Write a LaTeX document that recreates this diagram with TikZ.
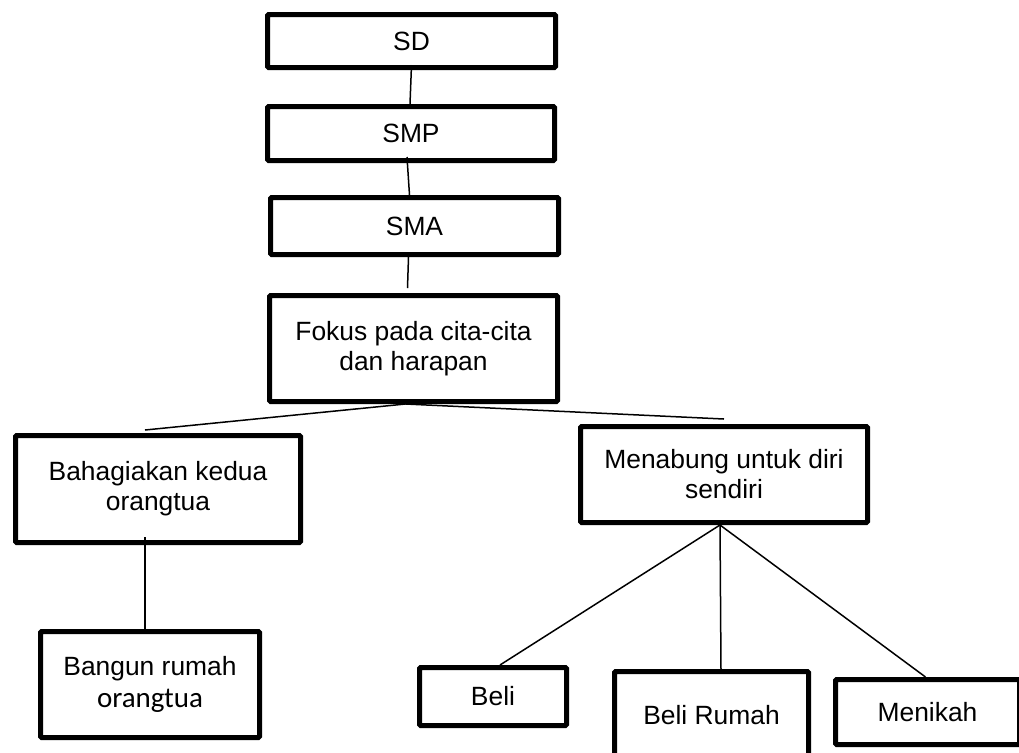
\documentclass[tikz,border=0pt]{standalone}
\usepackage{fontspec}
\setmainfont{Liberation Sans}
\newfontfamily\calibri{Carlito}
\usetikzlibrary{positioning}
\tikzset{
kotak/.style 2 args={
	draw, line width=2.5pt, rounded corners=0.6pt,
	minimum width=#1, minimum height=#2,
	inner sep=0pt, align=center,
	font=\fontsize{13.2pt}{15pt}\selectfont
},
garis/.style={line width=0.75pt},
}
\begin{document}
\begin{tikzpicture}[x=0.5pt, y=-0.5pt]
\useasboundingbox (0,0) rectangle (1019,752);
\clip (0,0) rectangle (1019,752);
\node[kotak={144pt}{26.5pt}] (sd) at (411.5,41) {SD};
\node[kotak={143.5pt}{27pt}] (smp) at (411,133.5) {SMP};
\node[kotak={144pt}{28.5pt}] (sma) at (414.5,226) {SMA};
\node[kotak={144pt}{53pt}] (fokus) at (413.5,348.5) {Fokus pada cita-cita\\dan harapan};

%
\node[kotak={142.5pt}{53.5pt}] (bahagia) at (158,489) {Bahagiakan kedua\\orangtua};
\node[kotak={109.5pt}{53pt}] (bangun) at (150,684.5) {Bangun rumah\\[1pt]{\calibri\fontsize{14.5pt}{15pt}\selectfont orangtua}};

%
\node[kotak={143.5pt}{48pt}] (tabung) at (724,474.5) {Menabung untuk diri\\sendiri};
\node[kotak={73.5pt}{29pt}] (beli) at (493,696.5) {Beli};
\node[kotak={97pt}{43.5pt}] (rumah) at (711.5,715) {Beli Rumah};
\node[kotak={92pt}{32.5pt}] (nikah) at (927.5,712) {Menikah};

%
\draw[garis] ([yshift=2.5pt]sd.south) to ([xshift=-0.5pt]smp.north);
\draw[garis] ([xshift=-2pt,yshift=3pt]smp.south) to ([xshift=-2.5pt]sma.north);
\draw[garis] ([xshift=-3pt]sma.south) to ([xshift=-3pt,yshift=2.5pt]fokus.north);

%
\draw[garis] ([xshift=-4pt]fokus.south) to ([xshift=-6.5pt,yshift=1.5pt]bahagia.north);
\draw[garis] ([xshift=-4pt]fokus.south) to ([yshift=2.5pt]tabung.north);
\draw[garis] ([xshift=-6.5pt,yshift=4pt]bahagia.south) to ([xshift=-2.5pt]bangun.north);

%
\draw[garis] ([xshift=-2pt]tabung.south) to ([xshift=3.5pt]beli.north);
\draw[garis] ([xshift=-2pt]tabung.south) to ([xshift=4.75pt]rumah.north);
\draw[garis] ([xshift=-2pt]tabung.south) to ([xshift=-1pt]nikah.north);
\end{tikzpicture}
\end{document}
